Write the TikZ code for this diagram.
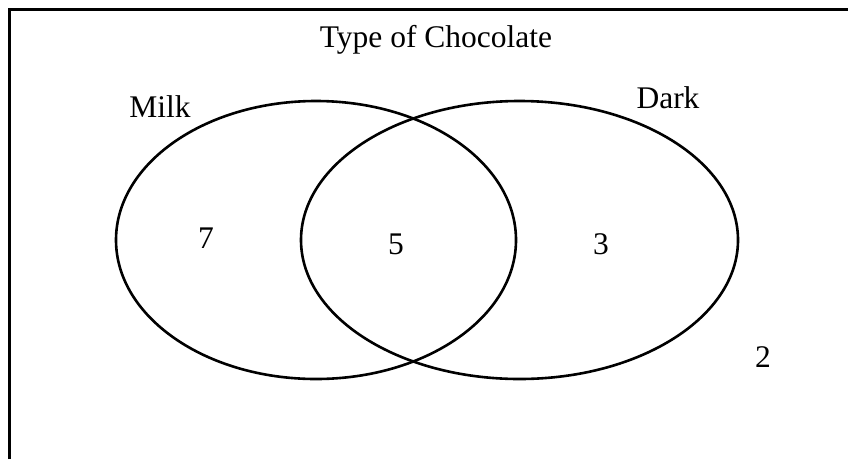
\documentclass[tikz,border=0pt]{standalone}
\usepackage{fontspec}
\setmainfont{Liberation Serif}
\usetikzlibrary{shapes.geometric}

\begin{document}
\begin{tikzpicture}[
    x=1pt, y=-1pt,
    set/.style={ellipse, draw, line width=2.6pt, inner sep=0pt},
    label/.style={font=\fontsize{31.5}{36}\selectfont, inner sep=0pt},
]
\useasboundingbox (0,0) rectangle (848,459);

% Frame
\coordinate (frameleft) at (9.5,459);
\coordinate (framecorner) at (9.5,9.5);
\coordinate (frameright) at (848,9.5);
\draw [line width=3pt] (frameleft) -- (framecorner) -- (frameright);

% Sets
\node [set, minimum width=400pt, minimum height=278pt] (milk) at (316,240) {};
\node [set, minimum width=437pt, minimum height=278pt] (dark) at (519.5,240) {};

% Labels
\node [label] (title) at (436,40) {Type of Chocolate};
\node [label, anchor=base] (milklabel) at (160,117) {Milk};
\node [label, anchor=base] (darklabel) at (668,108) {Dark};
\node [label] (onlymilk) at (206,238) {7};
\node [label] (both) at (396,244) {5};
\node [label] (onlydark) at (601,244) {3};
\node [label] (neither) at (763,357) {2};

\end{tikzpicture}
\end{document}
